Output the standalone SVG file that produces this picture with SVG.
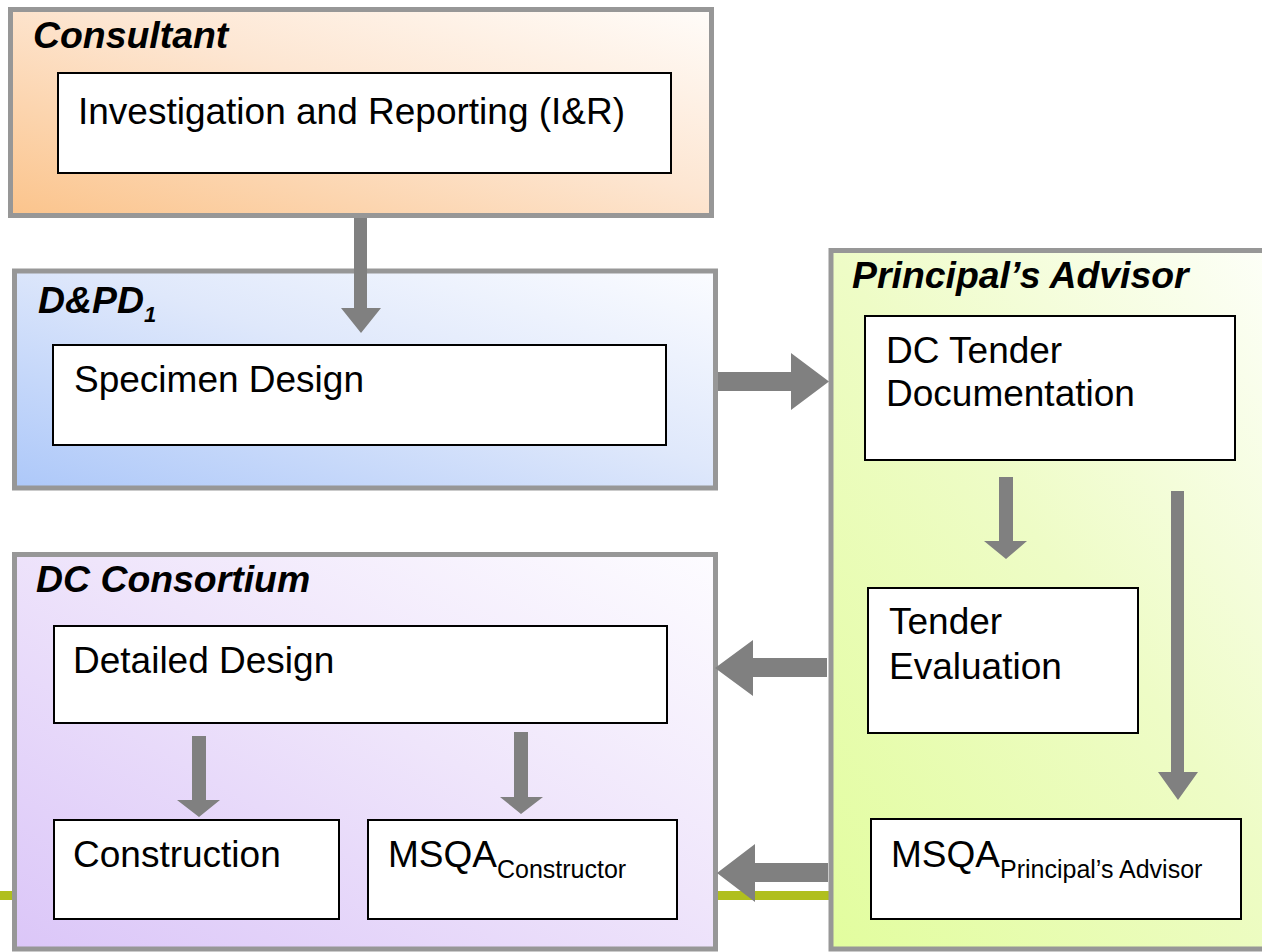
<svg xmlns="http://www.w3.org/2000/svg" width="1262" height="952" viewBox="0 0 1262 952">
  <defs>
    <linearGradient id="gOrange" x1="0" y1="1" x2="1" y2="0">
      <stop offset="0" stop-color="#fbc48c"/>
      <stop offset="0.55" stop-color="#fde6d2"/>
      <stop offset="1" stop-color="#fffcf9"/>
    </linearGradient>
    <linearGradient id="gBlue" x1="0" y1="1" x2="1" y2="0">
      <stop offset="0" stop-color="#adc8f9"/>
      <stop offset="0.55" stop-color="#dfe8fb"/>
      <stop offset="1" stop-color="#fbfcff"/>
    </linearGradient>
    <linearGradient id="gPurple" x1="0" y1="1" x2="1" y2="0">
      <stop offset="0" stop-color="#dbc6f8"/>
      <stop offset="0.55" stop-color="#efe5fb"/>
      <stop offset="1" stop-color="#fdfcff"/>
    </linearGradient>
    <linearGradient id="gGreen" x1="0" y1="1" x2="1" y2="0">
      <stop offset="0" stop-color="#e2fd9e"/>
      <stop offset="0.5" stop-color="#eefcc6"/>
      <stop offset="1" stop-color="#ffffff"/>
    </linearGradient>
  </defs>
  <style>
    .outer { stroke: #979797; stroke-width: 5; }
    .inner { fill: #ffffff; stroke: #000000; stroke-width: 2; }
    .title { font-family: "Liberation Sans", Arial, sans-serif; font-weight: bold; font-style: italic; font-size: 37.4px; fill: #000; }
    .body { font-family: "Liberation Sans", Arial, sans-serif; font-size: 37px; fill: #000; }
    .sub { font-size: 25px; }
    .arrow { fill: #808080; }
  </style>
  <rect x="0" y="0" width="1262" height="952" fill="#ffffff"/>
  <rect id="greenline" x="0" y="891" width="1262" height="9" fill="#b0bf1e"/>

  <g id="consultant">
    <rect class="outer" x="10.5" y="9.5" width="701" height="206" fill="url(#gOrange)"/>
    <text class="title" x="33" y="48">Consultant</text>
  </g>
  <g id="ir">
    <rect class="inner" x="58" y="73" width="613" height="100"/>
    <text class="body" x="78" y="124">Investigation and Reporting (I&amp;R)</text>
  </g>

  <g id="dpd">
    <rect class="outer" x="14.5" y="271" width="701" height="217" fill="url(#gBlue)"/>
    <text class="title" x="38" y="313">D&amp;PD<tspan font-size="22" dy="9">1</tspan></text>
  </g>
  <g id="specimen">
    <rect class="inner" x="53" y="345" width="613" height="100"/>
    <text class="body" x="74" y="392">Specimen Design</text>
  </g>

  <g id="consortium">
    <rect class="outer" x="14.5" y="554.5" width="701" height="394.5" fill="url(#gPurple)"/>
    <text class="title" x="36" y="592">DC Consortium</text>
  </g>
  <g id="detailed">
    <rect class="inner" x="54" y="626" width="613" height="97"/>
    <text class="body" x="73" y="673">Detailed Design</text>
  </g>
  <g id="construction">
    <rect class="inner" x="54" y="820" width="285" height="99"/>
    <text class="body" x="73" y="867">Construction</text>
  </g>
  <g id="msqa-constructor">
    <rect class="inner" x="368" y="820" width="309" height="99"/>
    <text class="body" x="388" y="867">MSQA<tspan class="sub" dy="11">Constructor</tspan></text>
  </g>

  <g id="advisor">
    <rect class="outer" x="831" y="250.5" width="500" height="698.5" fill="url(#gGreen)"/>
    <text class="title" x="852" y="288">Principal’s Advisor</text>
  </g>
  <g id="tender-doc">
    <rect class="inner" x="865" y="316" width="370" height="144"/>
    <text class="body" x="886" y="363">DC Tender</text>
    <text class="body" x="886" y="406">Documentation</text>
  </g>
  <g id="tender-eval">
    <rect class="inner" x="868" y="588" width="270" height="145"/>
    <text class="body" x="889" y="634">Tender</text>
    <text class="body" x="889" y="679">Evaluation</text>
  </g>
  <g id="msqa-advisor">
    <rect class="inner" x="871" y="819" width="370" height="100"/>
    <text class="body" x="891" y="867">MSQA<tspan class="sub" dy="11">Principal’s Advisor</tspan></text>
  </g>

  <g id="connectors">
    <polygon class="arrow" points="354,218 367,218 367,308 381,308 361,333 341,308 354,308"/>
    <polygon class="arrow" points="718,372 791,372 791,353 829,381.5 791,410 791,391 718,391"/>
    <polygon class="arrow" points="999,477 1013,477 1013,541 1027,541 1006,559 984,541 999,541"/>
    <polygon class="arrow" points="1171,491 1184,491 1184,772 1198,772 1178,800 1158,772 1171,772"/>
    <polygon class="arrow" points="192,736 206,736 206,800 220,800 199,817 177,800 192,800"/>
    <polygon class="arrow" points="514,732 528,732 528,797 543,797 521,814 500,797 514,797"/>
    <polygon class="arrow" points="827,658 753,658 753,640 715,668 753,696 753,677 827,677"/>
    <polygon class="arrow" points="828,863 755,863 755,844 717,873 755,902 755,882 828,882"/>
  </g>
</svg>
